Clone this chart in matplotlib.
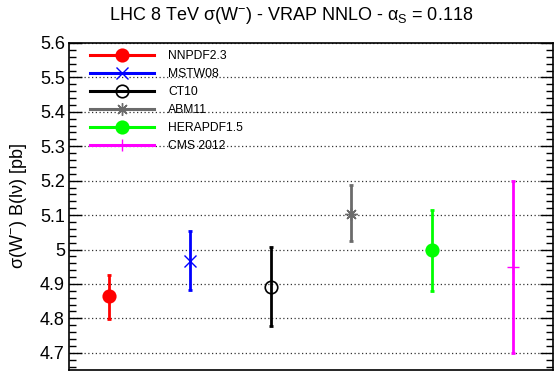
import matplotlib
matplotlib.use("Agg")
import matplotlib.pyplot as plt
from matplotlib.lines import Line2D
from matplotlib.ticker import MultipleLocator, FuncFormatter

plt.rcParams['font.family'] = ['Liberation Sans', 'DejaVu Sans']
plt.rcParams['mathtext.fontset'] = 'custom'
plt.rcParams['mathtext.rm'] = 'Liberation Sans'
plt.rcParams['mathtext.it'] = 'Liberation Sans'

labels = ["NNPDF2.3", "MSTW08", "CT10", "ABM11", "HERAPDF1.5", "CMS 2012"]
values = [4.865, 4.968, 4.892, 5.104, 4.999, 4.948]
err_up = [0.062, 0.085, 0.114, 0.084, 0.117, 0.252]
err_dn = [0.066, 0.085, 0.114, 0.080, 0.119, 0.250]
colors = ["#ff0000", "#0000ff", "#000000", "#6b6b6b", "#00ff00", "#ff00ff"]
markers = ["o", "x", "o", (8, 2, 0), "o", "+"]
facecols = ["#ff0000", "#0000ff", "none", "#6b6b6b", "#00ff00", "#ff00ff"]
positions = [0.5, 1.5, 2.5, 3.5, 4.5, 5.5]

fig = plt.figure(figsize=(5.55, 3.74), dpi=100)
ax = fig.add_axes([69/555, 1-370/374, (553-69)/555, (370-43)/374])

handles = []
for x, v, eu, ed, c, m, fc, lab in zip(positions, values, err_up, err_dn, colors, markers, facecols, labels):
    ms = 9
    mew = 1.0 if m in ("x", "+", (8, 2, 0)) else 1.2
    ax.errorbar([x], [v], yerr=[[ed], [eu]], fmt='none', ecolor=c, elinewidth=2.0,
                capsize=1.5, capthick=2.0, zorder=3)
    ax.plot([x], [v], linestyle='none', marker=m, markersize=ms, color=c,
            markerfacecolor=fc, markeredgecolor=c, markeredgewidth=mew, zorder=4)
    handles.append(Line2D([0], [0], color=c, lw=2.2, marker=m, markersize=ms,
                          markerfacecolor=fc, markeredgecolor=c, markeredgewidth=mew))

ax.set_xlim(0, 6)
ax.set_ylim(4.65, 5.6)
ax.set_xticks([])
ax.yaxis.set_major_locator(MultipleLocator(0.1))
ax.yaxis.set_minor_locator(MultipleLocator(0.02))
ax.yaxis.set_major_formatter(FuncFormatter(lambda v, p: "%g" % round(v, 2)))
ax.tick_params(axis='y', which='both', direction='in', left=True, right=True, labelsize=13, pad=3)
ax.tick_params(axis='y', which='major', length=9.5, width=1)
ax.tick_params(axis='y', which='minor', length=5, width=1)
for s in ax.spines.values():
    s.set_linewidth(1.2)
ax.grid(axis='y', which='major', linestyle=(0, (1, 2)), color='#333333', linewidth=0.9)
ax.set_axisbelow(True)

ax.set_ylabel(r"$\sigma$(W$^{\mathregular{-}}$) B(l$\nu$) [pb]", fontsize=13, labelpad=8)

fig.text(291/555, 1-16/374, r"LHC 8 TeV $\sigma$(W$^{\mathregular{-}}$) - VRAP NNLO - $\alpha_{\mathregular{S}}$ = 0.118",
         ha='center', va='center', fontsize=13)

leg = ax.legend(handles, labels, loc='upper left', bbox_to_anchor=(0.028, 1.0),
                frameon=False, fontsize=8.7, handlelength=5.3, handletextpad=1.2,
                labelspacing=0.5, borderaxespad=0.2)

fig.savefig("out.png", dpi=100)
